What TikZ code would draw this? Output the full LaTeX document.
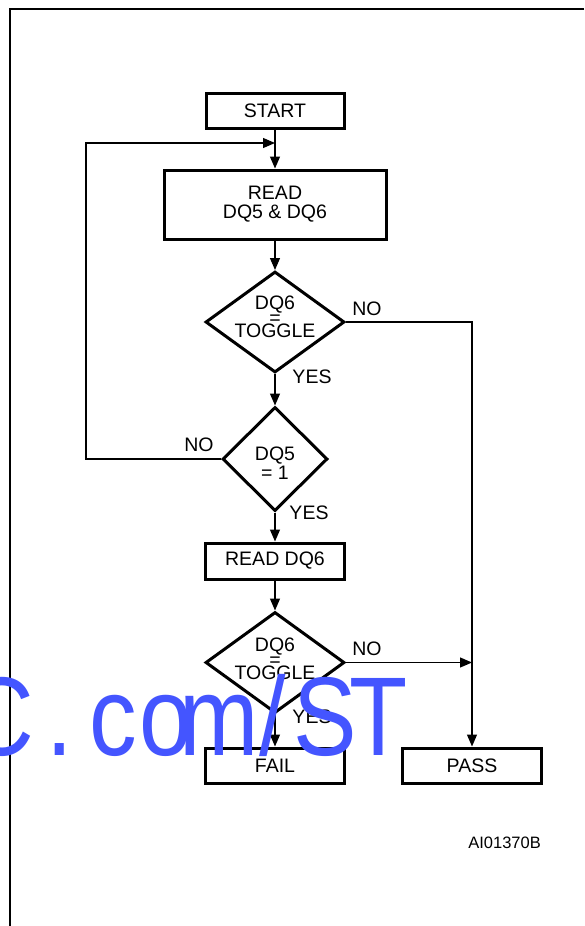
\documentclass[tikz,border=0pt]{standalone}
\usepackage{fontspec}
\setmainfont{Liberation Sans}
\usetikzlibrary{arrows.meta,shapes.geometric}
\definecolor{wmblue}{RGB}{68,85,255}
\newcommand{\wmcell}[1]{\makebox[62.4pt]{#1}}
\begin{document}
\begin{tikzpicture}[x=1pt,y=-1pt,
  txt/.style={font=\fontsize{19.5}{19}\selectfont, inner sep=0pt},
  box/.style={draw, line width=3pt, rectangle, inner sep=0pt, txt},
  dia/.style={draw, line width=3pt, diamond, inner sep=0pt},
  conn/.style={line width=1.2pt},
  arr/.style={conn, -{Triangle[length=12pt,width=10pt]}},
  lbl/.style={txt, anchor=base}]
\useasboundingbox (0,0) rectangle (584,926);
\fill[white] (0,0) rectangle (584,926);
% frame
\draw[line width=2pt] (584,8.5) -- (10,8.5) -- (10,926);

% nodes
\node[box, minimum width=138pt, minimum height=35pt] (start) at (275,111) {START};
\node[box, minimum width=222pt, minimum height=69pt, align=center] (read) at (275,204.5) {READ\\DQ5 \& DQ6};
\node[dia, minimum width=139pt, minimum height=101pt] (d1) at (275,322) {};
\node[dia, minimum width=105pt, minimum height=104pt] (d2) at (275,459) {};
\node[box, minimum width=139pt, minimum height=36pt] (rd6) at (275,561) {READ DQ6};
\node[dia, minimum width=139pt, minimum height=101pt] (d3) at (275,662.5) {};
\node[box, minimum width=139pt, minimum height=35pt] (fail) at (275,765.5) {FAIL};
\node[box, minimum width=139pt, minimum height=35pt] (pass) at (472,765.5) {PASS};

% diamond texts
\node[lbl] (d1a) at (275,309) {DQ6};
\node[lbl] (d1b) at (275,324) {=};
\node[lbl] (d1c) at (275,337) {TOGGLE};
\node[lbl] (d2a) at (275,460) {DQ5};
\node[lbl] (d2b) at (275,479) {= 1};
\node[lbl] (d3a) at (275,651) {DQ6};
\node[lbl] (d3b) at (275,666) {=};
\node[lbl] (d3c) at (275,679) {TOGGLE};

% connectors
\coordinate (loopc) at (86,143);
\draw[arr] (start.south) -- (read.north);
\draw[arr] (d2.west) -- (d2.west -| loopc) -- (loopc) -- (loopc -| start.south);
\draw[arr] (read.south) -- (d1.north);
\draw[arr] (d1.south) -- (d2.north);
\draw[arr] (d2.south) -- (rd6.north);
\draw[arr] (rd6.south) -- (d3.north);
\draw[arr] (d3.south) -- (fail.north);
\draw[arr] (d1.east) -| (pass.north);
\draw[arr] (d3.east) -- (d3.east -| pass.north);

% branch labels
\node[lbl] (no1) at (367,315.5) {NO};
\node[lbl] (yes1) at (312,383) {YES};
\node[lbl] (no2) at (199,451.5) {NO};
\node[lbl] (yes2) at (309,519.5) {YES};
\node[lbl] (no3) at (367,655.5) {NO};
\node[lbl] (yes3) at (312,723) {YES};

% figure code
\node[font=\fontsize{16.5}{18}\selectfont, anchor=base east, inner sep=0pt] (code) at (541,848) {AI01370B};

% watermark
\node[anchor=base west, inner sep=0pt, text=wmblue, font=\fontsize{112}{112}\selectfont, xscale=0.85] (wm) at (-19.5,755)
  {\wmcell{C\kern18pt}\wmcell{.}\wmcell{c}\wmcell{o}\wmcell{m}\wmcell{/}\wmcell{S}\wmcell{T}};
\end{tikzpicture}
\end{document}
